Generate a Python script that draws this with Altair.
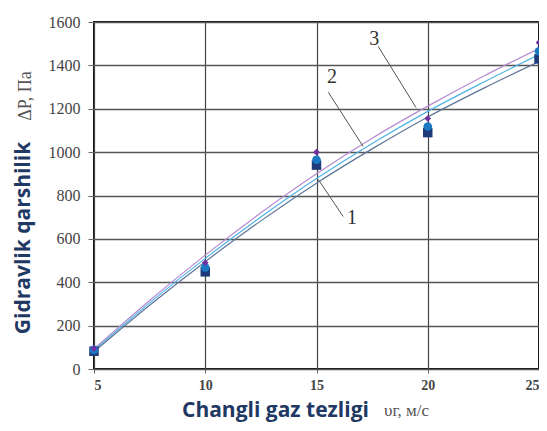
import altair as alt
import pandas as pd

# fitted curves
curve_x = [5, 7.5, 10, 12.5, 15, 17.5, 20, 22.5, 25]
curve3 = [92, 316, 525, 720, 900, 1064, 1212, 1350, 1478]
curve2 = [86, 305, 510, 701, 878, 1040, 1188, 1322, 1450]
curve1 = [80, 294, 495, 683, 857, 1015, 1162, 1294, 1418]

# measured points
pt_x = [5, 10, 15, 20, 25]
pts3 = [95, 490, 1000, 1155, 1505]
pts2 = [88, 468, 965, 1118, 1465]
pts1 = [82, 448, 940, 1090, 1430]

# curve labels and leader lines
lab_text = ["3", "2", "1"]
lab_x = [17.6, 15.7, 16.6]
lab_y = [1520, 1345, 698]
lead_x = [17.77, 15.53, 15.08]
lead_y = [1488, 1276, 874]
lead_x2 = [19.47, 17.09, 16.2]
lead_y2 = [1206, 1027, 703]

x_ticks = [5, 10, 15, 20, 25]
y_ticks = [0, 200, 400, 600, 800, 1000, 1200, 1400, 1600]

curves = pd.DataFrame(
    [{"x": x, "y": y, "s": "3"} for x, y in zip(curve_x, curve3)]
    + [{"x": x, "y": y, "s": "2"} for x, y in zip(curve_x, curve2)]
    + [{"x": x, "y": y, "s": "1"} for x, y in zip(curve_x, curve1)]
)
points = pd.DataFrame(
    [{"x": x, "y": y, "s": "1"} for x, y in zip(pt_x, pts1)]
    + [{"x": x, "y": y, "s": "2"} for x, y in zip(pt_x, pts2)]
    + [{"x": x, "y": y, "s": "3"} for x, y in zip(pt_x, pts3)]
)
labels = pd.DataFrame({"t": lab_text, "x": lab_x, "y": lab_y})
leaders = pd.DataFrame({"x": lead_x, "y": lead_y, "x2": lead_x2, "y2": lead_y2})

xs = alt.Scale(domain=[5, 25], nice=False, zero=False)
ys = alt.Scale(domain=[0, 1600], nice=False)

xax = alt.Axis(values=x_ticks, title=None, grid=True, gridColor="#444", gridWidth=1.2,
               domain=False, tickColor="#666", tickSize=4, labelPadding=5, format="d",
               labelFont="Liberation Serif", labelFontSize=14, labelColor="#444",
               labelFontWeight="bold", labelFlush=True)
yax = alt.Axis(values=y_ticks, title=None, grid=True, gridColor="#555", gridWidth=1.4,
               domain=False, tickColor="#666", tickSize=6, labelPadding=8, format="d",
               labelFont="Liberation Serif", labelFontSize=16, labelColor="#444")

line_colors = alt.Scale(domain=["3", "2", "1"], range=["#B58BD0", "#4FB3E6", "#5E7596"])

lines = alt.Chart(curves).mark_line(interpolate="monotone", strokeWidth=1.2).encode(
    x=alt.X("x:Q", scale=xs, axis=xax),
    y=alt.Y("y:Q", scale=ys, axis=yax),
    color=alt.Color("s:N", scale=line_colors, legend=None),
    detail="s:N",
)

p1 = alt.Chart(points[points.s == "1"]).mark_point(shape="square", filled=True, size=90,
                                                      color="#1F3A7A", opacity=1).encode(
    x=alt.X("x:Q", scale=xs), y=alt.Y("y:Q", scale=ys))
p2 = alt.Chart(points[points.s == "2"]).mark_point(shape="circle", filled=True, size=75,
                                                      color="#1A78C2", opacity=1).encode(
    x=alt.X("x:Q", scale=xs), y=alt.Y("y:Q", scale=ys))
p3 = alt.Chart(points[points.s == "3"]).mark_point(shape="diamond", filled=True, size=45,
                                                      color="#7030A0", opacity=1).encode(
    x=alt.X("x:Q", scale=xs), y=alt.Y("y:Q", scale=ys))

lead = alt.Chart(leaders).mark_rule(color="#555", strokeWidth=1).encode(
    x=alt.X("x:Q", scale=xs), y=alt.Y("y:Q", scale=ys),
    x2="x2:Q", y2="y2:Q")

lab = alt.Chart(labels).mark_text(font="Liberation Serif", fontSize=20, color="#333",
                                  align="center", baseline="middle").encode(
    x=alt.X("x:Q", scale=xs), y=alt.Y("y:Q", scale=ys), text="t:N")

title_df = pd.DataFrame({"a": [0]})
xt1 = alt.Chart(title_df).mark_text(text="Changli gaz tezligi", font="Open Sans", fontWeight="bold",
                                    fontSize=21, color="#1F3864", align="left",
                                    baseline="alphabetic").encode(
    x=alt.value(88), y=alt.value(395))
xt2 = alt.Chart(title_df).mark_text(text="υг, м/с", font="Liberation Serif", fontSize=17,
                                    color="#555", align="left", baseline="alphabetic").encode(
    x=alt.value(290), y=alt.value(394))
yt1 = alt.Chart(title_df).mark_text(text="Gidravlik qarshilik", font="Open Sans", fontWeight="bold",
                                    fontSize=21, color="#1F3864", align="center",
                                    baseline="middle", angle=270).encode(
    x=alt.value(-70), y=alt.value(216))
yt2 = alt.Chart(title_df).mark_text(text="ΔP, Па", font="Liberation Serif", fontSize=18,
                                    color="#555", align="center", baseline="middle",
                                    angle=270).encode(
    x=alt.value(-68), y=alt.value(74))

chart = alt.layer(lines, lead, p1, p2, p3, lab, xt1, xt2, yt1, yt2).properties(
    width=445, height=347,
    autosize=alt.AutoSizeParams(type="none"),
    padding={"left": 86, "top": 14, "right": 0, "bottom": 54},
    background="white",
).configure_view(stroke="#111", strokeWidth=2)

chart.save("out.html", embed_options={"renderer": "svg", "actions": False})
